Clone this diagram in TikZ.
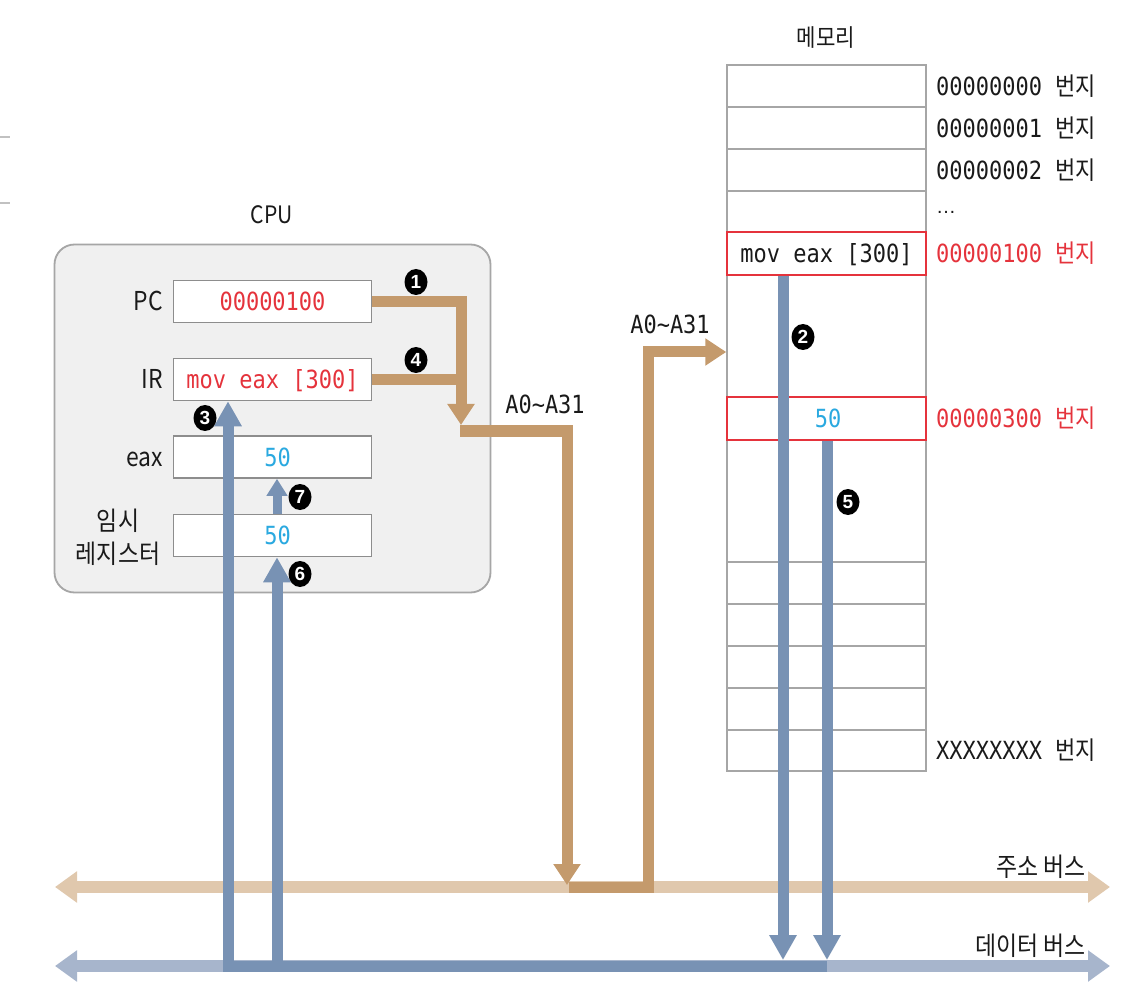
\documentclass[tikz,border=0pt]{standalone}
\usepackage{fontspec}
\usetikzlibrary{arrows.meta,shapes.geometric}
\newfontfamily\kr[FakeStretch=0.88]{Noto Sans CJK KR}
\newfontfamily\mono[FakeStretch=0.88]{DejaVu Sans Mono}
\newfontfamily\numf{Liberation Sans}

\definecolor{addrdark}{HTML}{C49A6C}
\definecolor{addrlight}{HTML}{E0C8AD}
\definecolor{datadark}{HTML}{7892B4}
\definecolor{datalight}{HTML}{A7B5CC}
\definecolor{hotred}{HTML}{E5333C}
\definecolor{valblue}{HTML}{2AA9E0}
\definecolor{cpufill}{HTML}{F0F0F0}
\definecolor{frame}{HTML}{A6A6A6}
\definecolor{ink}{HTML}{1A1A1A}

\tikzset{
  monotxt/.style={font=\mono\fontsize{25}{25}\selectfont, inner sep=0pt,
    text height=24.2pt, text depth=6pt, text=ink},
  lbl/.style={font=\kr\fontsize{26}{30}\selectfont, inner sep=0pt,
    text height=25pt, text depth=6pt, text=ink},
  titlelbl/.style={font=\kr\fontsize{24}{28}\selectfont, inner sep=0pt,
    text height=23.5pt, text depth=6pt, text=ink},
  reg/.style={monotxt, draw=frame!85!black, line width=1.6pt, fill=white,
    minimum width=198pt, minimum height=42pt},
  cell/.style={draw=frame, line width=1.5pt, minimum width=199pt,
    minimum height=42pt, inner sep=0pt},
  redcell/.style={cell, draw=hotred, line width=1.8pt, minimum height=43pt},
  cpubox/.style={draw=frame, line width=1.8pt, fill=cpufill,
    rounded corners=20pt, minimum width=436pt, minimum height=348pt},
  busbase/.style={line width=12pt,
    {Triangle[length=22pt,width=30pt]}-{Triangle[length=22pt,width=30pt]}},
  addrbus/.style={busbase, addrlight},
  databus/.style={busbase, datalight},
  addrpath/.style={addrdark, line width=11pt},
  addrarrow/.style={addrpath, -{Triangle[length=21pt,width=26pt]}},
  datapath/.style={datadark, line width=11pt},
  dataarrow/.style={datapath, -{Triangle[length=25pt,width=26pt]}},
  smallarrow/.style={datadark, line width=9pt, -{Triangle[length=17pt,width=20pt]}},
  badge/.style={ellipse, fill=black, minimum width=23pt, minimum height=26pt,
    inner sep=0pt, text=white, font=\numf\bfseries\fontsize{19}{19}\selectfont,
    text height=13.6pt, text depth=0pt},
  value/.style={label={[monotxt, text=valblue, xshift=5pt]center:#1}},
}

\begin{document}
\begin{tikzpicture}[x=1pt, y=-1pt]
\useasboundingbox[fill=white] (0,0) rectangle (1136,1000);

% stubs at the left margin
\draw[frame!70, line width=2pt] (0,137) -- (10,137);
\draw[frame!70, line width=2pt] (0,203) -- (10,203);

% ---------------- CPU ----------------
\node[titlelbl] (cputitle) at (272,215) {CPU};
\node[cpubox] (cpu) at (272.5,418.5) {};

\node[reg, text=hotred] (pc) at (272.5,301.5) {00000100};
\node[reg, text=hotred] (ir) at (272.5,379.5) {mov eax [300]};
\node[reg, value=50] (eax) at (272.5,457) {};
\node[reg, value=50] (tmp) at (272.5,535.5) {};

\node[lbl, anchor=east] (pclbl) at (163,301.5) {PC};
\node[lbl, anchor=east] (irlbl) at (163,379.5) {IR};
\node[lbl, anchor=east] (eaxlbl) at (163,457) {eax};
\node[lbl] (tmplbla) at (118,521) {임시};
\node[lbl] (tmplblb) at (118,554) {레지스터};

% ---------------- memory ----------------
\node[titlelbl] (memtitle) at (826,38) {메모리};
\node[cell, minimum height=706pt] (mem) at (826.5,418) {};

\node[cell] (m0) at (826.5,86) {};
\node[cell] (m1) at (826.5,128) {};
\node[cell] (m2) at (826.5,170) {};
\node[cell] (m3) at (826.5,212) {};
\node[cell] (m5) at (826.5,583) {};
\node[cell] (m6) at (826.5,625) {};
\node[cell] (m7) at (826.5,667) {};
\node[cell] (m8) at (826.5,709) {};
\node[cell, minimum height=41pt] (m9) at (826.5,750.5) {};
\node[redcell, fill=white] (mem100) at (826.5,253.5) {};
\node[monotxt] (mem100txt) at (826.5,253.5) {mov eax [300]};
\node[redcell, fill=white] (mem300) at (826.5,418.5) {};
\node[monotxt, text=valblue] (mem300txt) at (828,418.5) {50};

% address labels
\node[monotxt, anchor=west] (ad0) at (936,86) {00000000 {\kr 번지}};
\node[monotxt, anchor=west] (ad1) at (936,128) {00000001 {\kr 번지}};
\node[monotxt, anchor=west] (ad2) at (936,170) {00000002 {\kr 번지}};
\node[anchor=base west, inner sep=0pt, text=ink,
      font=\numf\fontsize{20}{20}\selectfont] (addots) at (936,214) {…};
\node[monotxt, anchor=west, text=hotred] (ad100) at (936,253.5) {00000100 {\kr 번지}};
\node[monotxt, anchor=west, text=hotred] (ad300) at (936,418.5) {00000300 {\kr 번지}};
\node[monotxt, anchor=west] (adx) at (936,750.5) {XXXXXXXX {\kr 번지}};

% ---------------- buses ----------------
\coordinate (abL) at (55,887);
\coordinate (abR) at (1110,887);
\coordinate (dbL) at (55,966);
\coordinate (dbR) at (1110,966);
\draw[addrbus] (abL) -- (abR);
\draw[databus] (dbL) -- (dbR);
\node[lbl, anchor=east] (ablbl) at (1086,867) {주소 버스};
\node[lbl, anchor=east] (dblbl) at (1086,946) {데이터 버스};

% ---------------- address lines ----------------
\coordinate (j1) at (461,425);
\coordinate (j1s) at (460,431);
\coordinate (a1) at (567,885);
\coordinate (a2) at (569,887);
\coordinate (up2) at (648,352);
\draw[addrarrow] (pc.east) -| (j1);
\draw[addrpath] (ir.east) -- (ir.east -| j1);
\draw[addrarrow] (j1s) -| (a1);
\draw[addrarrow] (a2) -| (up2) -- (up2 -| mem.west);

\node[monotxt] (alab1) at (545,404) {A0\textasciitilde A31};
\node[monotxt] (alab2) at (670,324) {A0\textasciitilde A31};

% ---------------- data lines ----------------
\coordinate (d2) at (783,960);
\coordinate (d5) at (827,960);
\coordinate (d5b) at (827,966);
\coordinate (d3) at (228,966);
\coordinate (d6) at (277,966);
\draw[dataarrow] (d5b) -- (d3) -- (d3 |- ir.south);
\draw[dataarrow] (d6) -- (d6 |- tmp.south);
\draw[smallarrow] (tmp.north -| d6) -- (eax.south -| d6);
\draw[dataarrow] (mem100.south -| d2) -- (d2);
\draw[dataarrow] (mem300.south -| d5) -- (d5);

% ---------------- step badges ----------------
\node[badge] (n1) at (416,282) {1};
\node[badge] (n4) at (416,360) {4};
\node[badge] (n3) at (205,418) {3};
\node[badge] (n7) at (300,497) {7};
\node[badge] (n6) at (300,574) {6};
\node[badge] (n2) at (803,337) {2};
\node[badge] (n5) at (848,502) {5};
\end{tikzpicture}
\end{document}
